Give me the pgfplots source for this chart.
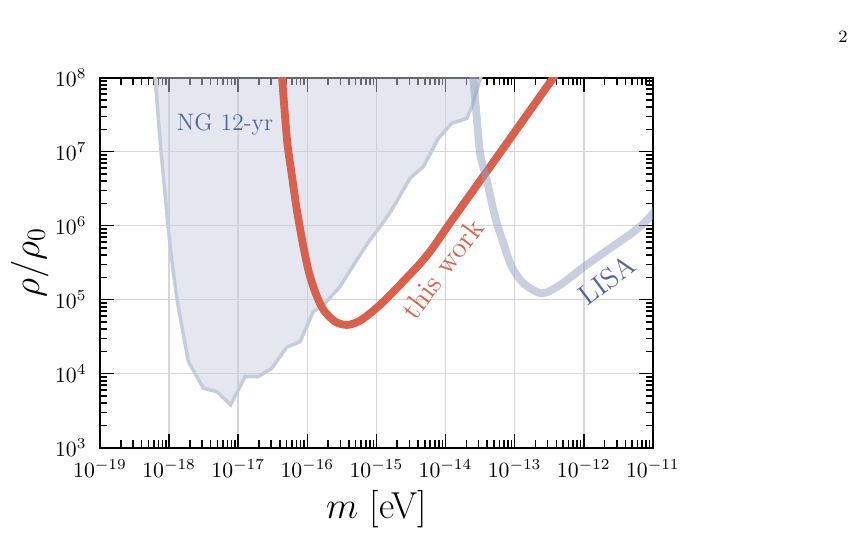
\documentclass[border=0pt]{standalone}
\usepackage{pgfplots}
\pgfplotsset{compat=1.18}

\definecolor{worklc}{RGB}{218,96,78}
\definecolor{ngfill}{RGB}{201,207,223}
\definecolor{ngline}{RGB}{197,205,221}
\definecolor{lisalc}{RGB}{146,160,190}
\definecolor{labelblue}{RGB}{82,101,155}
\definecolor{gridgray}{RGB}{214,214,214}

% grid below the curves, ticks and frame above them
\pgfplotsset{
  layers/gridbelow/.define layer set={
    axis background,axis grid,pre main,main,axis ticks,axis lines,
    axis tick labels,axis descriptions,axis foreground
  }{},
}

\begin{document}
\begin{tikzpicture}
\begin{axis}[
  set layers=gridbelow,
  at={(0pt,0pt)}, anchor=south west,
  scale only axis, width=254.8pt, height=170.5pt,
  xmode=log, ymode=log,
  xmin=1e-19, xmax=1e-11, ymin=1e3, ymax=1e8,
  xtick={1e-19,1e-18,1e-17,1e-16,1e-15,1e-14,1e-13,1e-12,1e-11},
  ytick={1e3,1e4,1e5,1e6,1e7,1e8},
  minor xtick={2e-19,3e-19,4e-19,5e-19,6e-19,7e-19,8e-19,9e-19,
               2e-18,3e-18,4e-18,5e-18,6e-18,7e-18,8e-18,9e-18,
               2e-17,3e-17,4e-17,5e-17,6e-17,7e-17,8e-17,9e-17,
               2e-16,3e-16,4e-16,5e-16,6e-16,7e-16,8e-16,9e-16,
               2e-15,3e-15,4e-15,5e-15,6e-15,7e-15,8e-15,9e-15,
               2e-14,3e-14,4e-14,5e-14,6e-14,7e-14,8e-14,9e-14,
               2e-13,3e-13,4e-13,5e-13,6e-13,7e-13,8e-13,9e-13,
               2e-12,3e-12,4e-12,5e-12,6e-12,7e-12,8e-12,9e-12},
  minor ytick={2e3,3e3,4e3,5e3,6e3,7e3,8e3,9e3,
               2e4,3e4,4e4,5e4,6e4,7e4,8e4,9e4,
               2e5,3e5,4e5,5e5,6e5,7e5,8e5,9e5,
               2e6,3e6,4e6,5e6,6e6,7e6,8e6,9e6,
               2e7,3e7,4e7,5e7,6e7,7e7,8e7,9e7},
  tick align=inside,
  tick pos=both,
  major tick length=6.5pt, minor tick length=3.3pt,
  tick style={black, line width=0.7pt},
  axis line style={black, line width=0.9pt},
  xmajorgrids, ymajorgrids,
  major grid style={gridgray, line width=0.7pt},
  xticklabel style={yshift=-2.2pt},
  yticklabel style={xshift=-2.7pt},
  xlabel={$m$ [eV]},
  ylabel={$\rho/\rho_0$},
  xlabel style={font=\LARGE, at={(axis description cs:0.5,-0.114)}, anchor=north, inner sep=0pt},
  ylabel style={font=\LARGE, at={(axis description cs:-0.127,0.5)}, anchor=center},
]

% NANOGrav 12-yr excluded region
\addplot[fill=ngfill, fill opacity=0.5, draw=ngline, line width=1.6pt] coordinates {
  (5.55e-19,3.98e8) (6.25e-19,1e8) (7.64e-19,1e7) (9.64e-19,1e6)
  (1.09e-18,3.44e5) (1.30e-18,9.91e4) (1.90e-18,1.45e4) (3.13e-18,6.35e3)
  (4.89e-18,5.71e3) (7.78e-18,3.78e3) (1.25e-17,9.10e3) (1.95e-17,9.10e3)
  (3.05e-17,1.18e4) (5.04e-17,2.28e4) (7.83e-17,2.70e4) (1.22e-16,6.89e4)
  (1.71e-16,8.47e4) (2.97e-16,1.50e5) (5.19e-16,3.44e5) (8.07e-16,6.41e5)
  (1.13e-15,9.68e5) (1.66e-15,1.63e6) (3.06e-15,4.37e6) (4.78e-15,6.27e6)
  (7.87e-15,1.52e7) (1.23e-14,2.42e7) (2.03e-14,2.82e7) (2.39e-14,4.06e7)
  (3.16e-14,9.31e7) (3.98e-14,2.0e8) (3.98e-14,3.98e8)
};

% this work
\addplot[worklc, line width=3.6pt, smooth, tension=0.5] coordinates {
  (3.85e-17,3.98e8) (4.31e-17,1e8) (5.08e-17,1.44e7) (5.90e-17,5.15e6)
  (6.93e-17,1.79e6) (7.71e-17,1e6) (8.95e-17,4.70e5) (1.059e-16,2.30e5)
  (1.315e-16,1.23e5) (1.714e-16,7.26e4) (2.52e-16,5.05e4) (3.72e-16,4.55e4)
  (5.47e-16,5.05e4) (8.07e-16,6.51e4) (1.205e-15,9.02e4) (1.858e-15,1.352e5)
  (2.864e-15,2.06e5) (4.416e-15,3.18e5) (6.59e-15,5.07e5) (1.09e-14,1e6)
  (2.63e-14,3.18e6) (6.31e-14,1e7) (1.51e-13,3.16e7) (3.63e-13,1e8)
  (6.31e-13,2.09e8)
};

% LISA
\addplot[lisalc, draw opacity=0.5, line width=3.6pt, smooth, tension=0.5] coordinates {
  (2.24e-14,3.98e8) (2.52e-14,1e8) (2.81e-14,3.13e7) (3.16e-14,9.51e6)
  (3.94e-14,4.15e6) (5.20e-14,1.32e6) (6.87e-14,5.78e5) (9.08e-14,2.79e5)
  (1.34e-13,1.67e5) (2.47e-13,1.22e5) (4.54e-13,1.58e5) (9.89e-13,2.75e5)
  (1.92e-12,4.27e5) (4.19e-12,7.10e5) (6.52e-12,9.68e5) (9.64e-12,1.40e6)
  (1.26e-11,2.0e6)
};

\node[font=\fontsize{11}{13}\selectfont, text=labelblue, anchor=base]
  at (axis cs:6.44e-18,1.96e7) {NG 12-yr};
\node[font=\fontsize{13.5}{15}\selectfont, text=worklc, rotate=53]
  at (axis cs:9.00e-15,2.60e5) {this work};
\node[font=\fontsize{13}{15}\selectfont, text=labelblue, rotate=37]
  at (axis cs:2.17e-12,1.84e5) {LISA};
\end{axis}
\node[font=\footnotesize] at (342.4pt,189.2pt) {2};
\pgfresetboundingbox
\path[use as bounding box] (-46.1pt,-39.8pt) rectangle (349.8pt,206.3pt);
\end{tikzpicture}
\end{document}
